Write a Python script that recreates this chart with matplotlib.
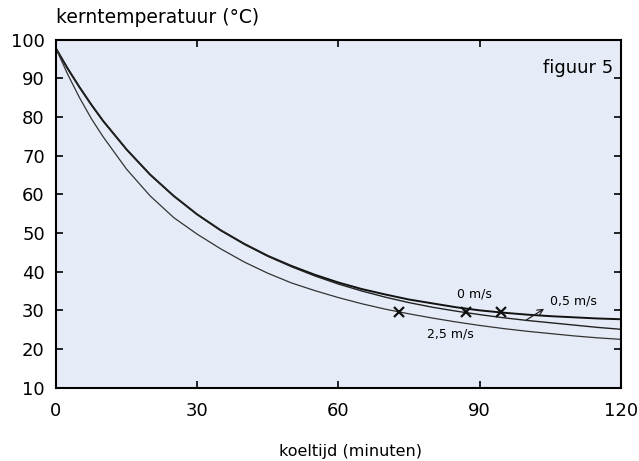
import matplotlib
matplotlib.use("Agg")
import matplotlib.pyplot as plt

# koeltijd in minuten
tijd = [0, 2.5, 5, 7.5, 10, 15, 20, 25, 30, 35, 40, 45, 50, 55, 60,
        65, 70, 75, 80, 85, 90, 95, 100, 105, 110, 115, 120]

# kerntemperatuur bij 0 m/s
temp_0 = [97.7, 92.5, 87.7, 83.2, 79.0, 71.6, 65.1, 59.6, 54.8, 50.7, 47.2, 44.1, 41.5, 39.2, 37.2,
          35.5, 34.1, 32.8, 31.8, 30.8, 30.0, 29.4, 28.9, 28.5, 28.2, 27.9, 27.7]

# kerntemperatuur bij 0,5 m/s
temp_05 = [97.7, 92.5, 87.7, 83.2, 79.0, 71.6, 65.1, 59.6, 54.8, 50.7, 47.1, 44.0, 41.3, 38.9, 36.8,
           35.0, 33.4, 32.0, 30.8, 29.8, 28.9, 28.1, 27.4, 26.8, 26.2, 25.6, 25.1]

# kerntemperatuur bij 2,5 m/s
temp_25 = [97.7, 91.0, 85.0, 79.6, 74.9, 66.5, 59.6, 54.0, 49.7, 45.9, 42.5, 39.6, 37.1, 35.1, 33.3,
           31.7, 30.3, 29.1, 28.0, 27.0, 26.1, 25.3, 24.6, 24.0, 23.4, 22.9, 22.5]

# kruisjes waar de curves ~29,5 graden bereiken
kruis_t = [72.8, 87.0, 94.6]
kruis_T = [29.5, 29.5, 29.5]

plt.rcParams['font.family'] = ['DejaVu Sans']

fig = plt.figure(figsize=(6.39, 4.61), dpi=100)
ax = fig.add_axes([0.0876, 0.159, 0.884, 0.755])
ax.set_facecolor('#e6ecf7')

ax.plot(tijd, temp_0, color='#111111', lw=1.4)
ax.plot(tijd, temp_05, color='#222222', lw=1.0)
ax.plot(tijd, temp_25, color='#333333', lw=0.9)
ax.plot(kruis_t, kruis_T, 'x', color='#111111', ms=7, mew=1.6)

ax.set_xlim(0, 120)
ax.set_ylim(10, 100)
ax.set_xticks([0, 30, 60, 90, 120])
ax.set_yticks(range(10, 101, 10))
ax.tick_params(axis='both', direction='in', length=5, width=1.2,
               top=True, right=True, labelsize=13)
ax.tick_params(axis='x', pad=10)
ax.tick_params(axis='y', pad=8)
for s in ax.spines.values():
    s.set_linewidth(1.5)

# teksten in de grafiek
ax.text(0.986, 0.918, 'figuur 5', transform=ax.transAxes, ha='right', va='center', fontsize=13)
ax.text(89, 34.2, '0 m/s', ha='center', va='center', fontsize=9)
ax.text(83.7, 23.9, '2,5 m/s', ha='center', va='center', fontsize=9)
ax.text(109.9, 32.3, '0,5 m/s', ha='center', va='center', fontsize=9)
ax.annotate('', xy=(104.2, 30.8), xytext=(99.4, 27.1),
            arrowprops=dict(arrowstyle='->', color='#222222', lw=0.9))

fig.text(0.0876, 0.961, 'kerntemperatuur (°C)', ha='left', va='center', fontsize=13.5)
fig.text(0.548, 0.02, 'koeltijd (minuten)', ha='center', va='center', fontsize=11.5)

fig.savefig('out.png', dpi=100)
